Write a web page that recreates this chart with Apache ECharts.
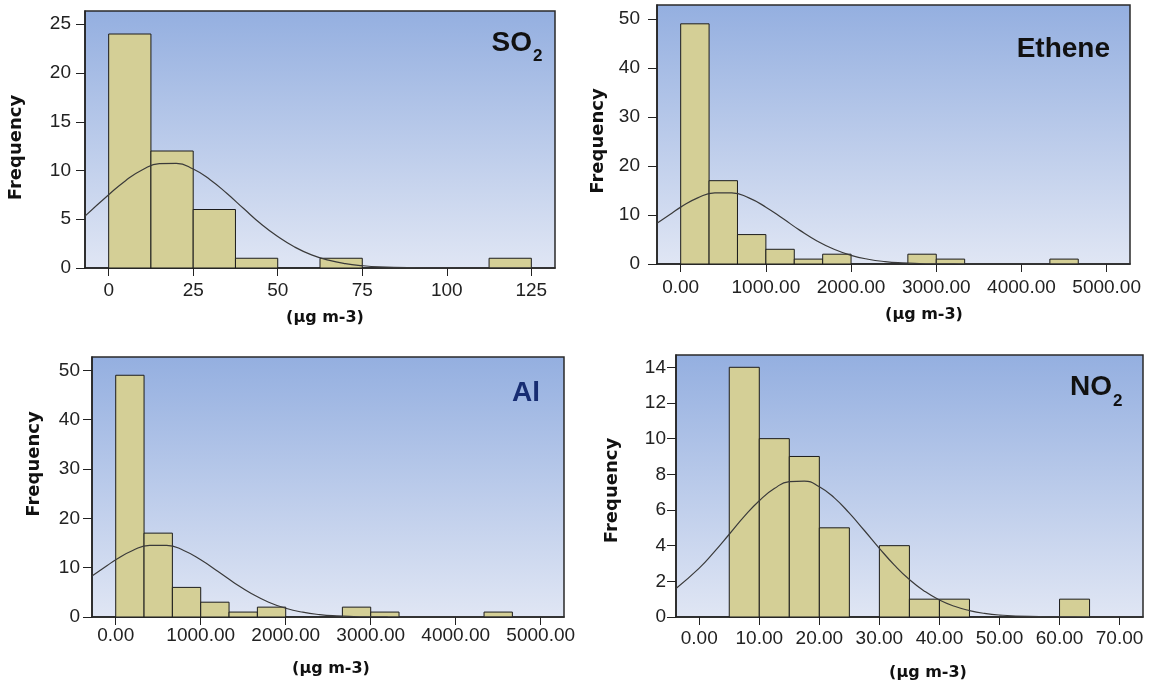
<!DOCTYPE html>
<html>
<head>
<meta charset="utf-8">
<title>Histograms of SO2, Ethene, Al and NO2</title>
<script src="https://cdn.jsdelivr.net/npm/echarts@6/dist/echarts.min.js"></script>
<style>
  html, body { margin: 0; padding: 0; background: #ffffff; }
  #chart { width: 1165px; height: 688px; }
</style>
</head>
<body>
<div id="chart"></div>
<script>
// ---- SO2 (µg m-3): bins of 12.5 starting at 0 ----
const so2BinStart = 0;
const so2BinWidth = 12.5;
const so2Counts = [24, 12, 6, 1, 0, 1, 0, 0, 0, 1];
const so2Ticks = [0, 25, 50, 75, 100, 125];
const so2FreqTicks = [0, 5, 10, 15, 20, 25];
const so2CurveX = [-7, 0, 5, 10, 15, 20, 25, 30, 35, 40, 45, 50, 55, 60, 65, 70, 75, 80, 90, 100, 110, 120, 132];
const so2CurveY = [5.32, 7.51, 8.96, 10.08, 10.71, 10.73, 10.15, 9.06, 7.64, 6.07, 4.53, 3.22, 2.15, 1.35, 0.81, 0.45, 0.24, 0.12, 0.03, 0.004, 0, 0, 0];

// ---- Ethene (µg m-3): 15 bins across 0–5000 ----
const etheneBinStart = 0;
const etheneBinWidth = 1000 / 3;
const etheneCounts = [49, 17, 6, 3, 1, 2, 0, 0, 2, 1, 0, 0, 0, 1];
const etheneTicks = [0, 1000, 2000, 3000, 4000, 5000];
const etheneFreqTicks = [0, 10, 20, 30, 40, 50];
const etheneCurveX = [-278, -100, 0, 200, 400, 600, 800, 1000, 1200, 1400, 1600, 1800, 2000, 2200, 2400, 2600, 2800, 3000, 3200, 3500, 4000, 4500, 5274];
const etheneCurveY = [8.31, 10.42, 11.6, 13.48, 14.53, 14.53, 13.48, 11.6, 9.26, 6.86, 4.71, 3.0, 1.77, 0.97, 0.49, 0.23, 0.1, 0.04, 0.01, 0, 0, 0, 0];

// ---- Al (µg m-3): 15 bins across 0–5000 ----
const alBinStart = 0;
const alBinWidth = 1000 / 3;
const alCounts = [49, 17, 6, 3, 1, 2, 0, 0, 2, 1, 0, 0, 0, 1];
const alTicks = [0, 1000, 2000, 3000, 4000, 5000];
const alFreqTicks = [0, 10, 20, 30, 40, 50];
const alCurveX = [-279, -100, 0, 200, 400, 600, 800, 1000, 1200, 1400, 1600, 1800, 2000, 2200, 2400, 2600, 2800, 3000, 3200, 3500, 4000, 4500, 5274];
const alCurveY = [8.3, 10.42, 11.6, 13.48, 14.53, 14.53, 13.48, 11.6, 9.26, 6.86, 4.71, 3.0, 1.77, 0.97, 0.49, 0.23, 0.1, 0.04, 0.01, 0, 0, 0, 0];

// ---- NO2 (µg m-3): bins of 5 starting at 5 ----
const no2BinStart = 5;
const no2BinWidth = 5;
const no2Counts = [14, 10, 9, 5, 0, 4, 1, 1, 0, 0, 0, 1];
const no2Ticks = [0, 10, 20, 30, 40, 50, 60, 70];
const no2FreqTicks = [0, 2, 4, 6, 8, 10, 12, 14];
const no2CurveX = [-3.87, 0, 2.5, 5, 7.5, 10, 12.5, 15, 17.5, 20, 22.5, 25, 27.5, 30, 32.5, 35, 37.5, 40, 42.5, 45, 47.5, 50, 55, 60, 65, 73.9];
const no2CurveY = [1.6, 2.74, 3.65, 4.64, 5.64, 6.52, 7.2, 7.59, 7.62, 7.3, 6.68, 5.82, 4.85, 3.85, 2.91, 2.1, 1.45, 0.95, 0.6, 0.36, 0.2, 0.11, 0.03, 0.01, 0, 0];

const BAR_FILL = '#d4cf96';
const BAR_EDGE = '#1c1c1c';
const TEXT_DARK = '#222222';
const TICK_FONT = 'Liberation Sans';

function binRows(start, width, counts) {
  return counts.map((c, i) => [start + i * width, start + (i + 1) * width, c]);
}
function curveRows(xs, ys) {
  return xs.map((x, i) => [x, ys[i]]);
}

function renderBin(params, api) {
  const count = api.value(2);
  if (!count) return null;
  const topLeft = api.coord([api.value(0), count]);
  const bottomRight = api.coord([api.value(1), 0]);
  return {
    type: 'rect',
    shape: {
      x: topLeft[0], y: topLeft[1],
      width: bottomRight[0] - topLeft[0],
      height: bottomRight[1] - topLeft[1]
    },
    style: { fill: BAR_FILL, stroke: BAR_EDGE, lineWidth: 1 }
  };
}

const plotBackground = {
  type: 'linear', x: 0, y: 0, x2: 0, y2: 1,
  colorStops: [
    { offset: 0, color: '#94afe0' },
    { offset: 1, color: '#e0e6f4' }
  ]
};

const panels = [
  { grid: { left: 85, top: 11, width: 470, height: 257 },
    x: [-7, 132], y: [0, 26.36], xTicks: so2Ticks, yTicks: so2FreqTicks,
    fmt: v => String(v), yMargin: 14, xMargin: 13,
    bins: binRows(so2BinStart, so2BinWidth, so2Counts), curve: curveRows(so2CurveX, so2CurveY) },
  { grid: { left: 657, top: 5, width: 473, height: 259 },
    x: [-278, 5274], y: [0, 52.84], xTicks: etheneTicks, yTicks: etheneFreqTicks,
    fmt: v => v.toFixed(2), yMargin: 17, xMargin: 14,
    bins: binRows(etheneBinStart, etheneBinWidth, etheneCounts), curve: curveRows(etheneCurveX, etheneCurveY) },
  { grid: { left: 92, top: 357, width: 472, height: 260 },
    x: [-279, 5274], y: [0, 52.7], xTicks: alTicks, yTicks: alFreqTicks,
    fmt: v => v.toFixed(2), yMargin: 12, xMargin: 9,
    bins: binRows(alBinStart, alBinWidth, alCounts), curve: curveRows(alCurveX, alCurveY) },
  { grid: { left: 676, top: 355, width: 467, height: 262 },
    x: [-3.87, 73.9], y: [0, 14.69], xTicks: no2Ticks, yTicks: no2FreqTicks,
    fmt: v => v.toFixed(2), yMargin: 10, xMargin: 12,
    bins: binRows(no2BinStart, no2BinWidth, no2Counts), curve: curveRows(no2CurveX, no2CurveY) }
];

const grid = [], xAxis = [], yAxis = [], series = [];
panels.forEach((p, i) => {
  grid.push(Object.assign({
    show: true, backgroundColor: plotBackground,
    borderColor: '#2a2a2a', borderWidth: 1.5, containLabel: false
  }, p.grid));
  xAxis.push({
    type: 'value', gridIndex: i, min: p.x[0], max: p.x[1],
    axisLine: { show: true, onZero: false, lineStyle: { color: TEXT_DARK, width: 1.5 } },
    axisTick: { show: true, length: 8, customValues: p.xTicks, lineStyle: { color: TEXT_DARK } },
    axisLabel: { customValues: p.xTicks, formatter: p.fmt, margin: p.xMargin,
                 fontFamily: TICK_FONT, fontSize: 19, color: TEXT_DARK },
    splitLine: { show: false }
  });
  yAxis.push({
    type: 'value', gridIndex: i, min: p.y[0], max: p.y[1],
    axisLine: { show: true, onZero: false, lineStyle: { color: TEXT_DARK, width: 1.5 } },
    axisTick: { show: true, length: 9, customValues: p.yTicks, lineStyle: { color: TEXT_DARK } },
    axisLabel: { customValues: p.yTicks, margin: p.yMargin,
                 fontFamily: TICK_FONT, fontSize: 19, color: TEXT_DARK },
    splitLine: { show: false }
  });
  series.push({
    type: 'custom', xAxisIndex: i, yAxisIndex: i,
    renderItem: renderBin, encode: { x: [0, 1], y: 2 },
    data: p.bins, silent: true
  });
  series.push({
    type: 'line', xAxisIndex: i, yAxisIndex: i,
    data: p.curve, smooth: 0.5, showSymbol: false,
    lineStyle: { color: '#3a3a3a', width: 1.2 }, silent: true, z: 5
  });
});

// Panel headings and axis titles
const TITLE_FONT = 'bold 28px "Liberation Sans"';
const SUB_FONT = 'bold 17px "Liberation Sans"';
function label(text, x, y, font, align, color, rotation) {
  return {
    type: 'text', x: x, y: y, rotation: rotation || 0, silent: true, z: 100,
    style: { text: text, font: font, fill: color || '#111111', align: align || 'center', verticalAlign: 'middle' }
  };
}
const graphic = [
  label('SO', 532, 43.5, TITLE_FONT, 'right'),
  label('2', 533, 56, SUB_FONT, 'left'),
  label('Ethene', 1110, 49, TITLE_FONT, 'right'),
  label('Al', 540, 393.5, TITLE_FONT, 'right', '#172c72'),
  label('NO', 1112, 387.5, TITLE_FONT, 'right'),
  label('2', 1113, 401, SUB_FONT, 'left'),

  label('Frequency', 16, 147.5, 'bold 18px "DejaVu Sans"', 'center', '#111111', Math.PI / 2),
  label('Frequency', 598, 141, 'bold 18px "DejaVu Sans"', 'center', '#111111', Math.PI / 2),
  label('Frequency', 34, 464, 'bold 18px "DejaVu Sans"', 'center', '#111111', Math.PI / 2),
  label('Frequency', 612, 490.5, 'bold 18px "DejaVu Sans"', 'center', '#111111', Math.PI / 2),

  label('(µg m-3)', 325, 318, 'bold 16px "DejaVu Sans"', 'center'),
  label('(µg m-3)', 924, 315, 'bold 16px "DejaVu Sans"', 'center'),
  label('(µg m-3)', 331, 669, 'bold 16px "DejaVu Sans"', 'center'),
  label('(µg m-3)', 928, 672.5, 'bold 16px "DejaVu Sans"', 'center')
];

const chart = echarts.init(document.getElementById('chart'), null, { renderer: 'canvas' });
chart.setOption({
  animation: false,
  backgroundColor: '#ffffff',
  grid: grid,
  xAxis: xAxis,
  yAxis: yAxis,
  series: series,
  graphic: graphic
});
</script>
</body>
</html>
